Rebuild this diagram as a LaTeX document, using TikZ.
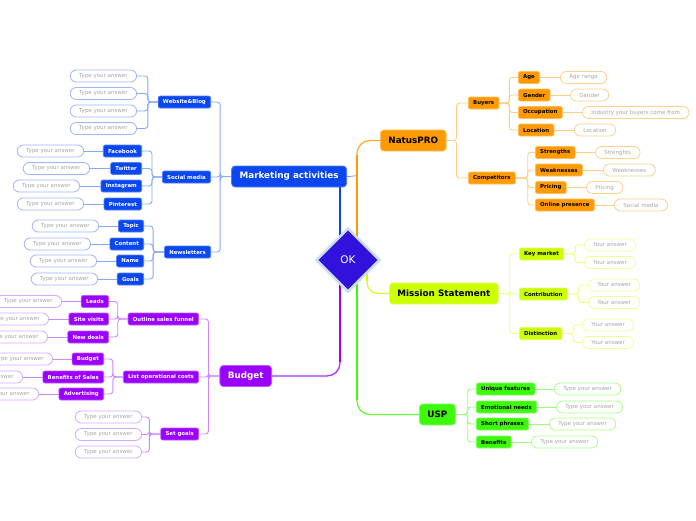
\documentclass[tikz,border=0pt]{standalone}
\usepackage{fontspec}
\setmainfont{DejaVu Sans}
\usetikzlibrary{shapes.geometric}
\pgfdeclarelayer{bg}
\pgfsetlayers{bg,main}
\definecolor{bnode}{HTML}{0A47F0}
\definecolor{bline}{HTML}{88A8F8}
\definecolor{bansc}{HTML}{9DB6F9}
\definecolor{onode}{HTML}{FF9A00}
\definecolor{oline}{HTML}{FFCD85}
\definecolor{oansc}{HTML}{FFCF8F}
\definecolor{ynode}{HTML}{CCFF00}
\definecolor{yline}{HTML}{EEFF88}
\definecolor{yansc}{HTML}{EEFF99}
\definecolor{ythickc}{HTML}{D6F500}
\definecolor{gnode}{HTML}{3CFA0A}
\definecolor{gline}{HTML}{99FF77}
\definecolor{gansc}{HTML}{A6FF8A}
\definecolor{pnode}{HTML}{9900FF}
\definecolor{pline}{HTML}{CC88FF}
\definecolor{pansc}{HTML}{D8A8FF}
\definecolor{diafill}{HTML}{3311DD}
\definecolor{diaedge}{HTML}{C8DDF0}
\definecolor{anstext}{HTML}{A6A6A6}
\tikzset{
  mainnode/.style={rounded corners=3.5pt, inner xsep=8pt, inner ysep=0pt, minimum height=21pt, font=\fontsize{8.8}{10}\selectfont\bfseries, line width=0.8pt},
  subnode/.style={rounded corners=2pt, inner xsep=4.8pt, inner ysep=0pt, minimum height=12pt, font=\fontsize{5.4}{6}\selectfont\bfseries, line width=0.7pt},
  ansnode/.style={rounded corners=6pt, inner xsep=9pt, inner ysep=0pt, minimum height=12pt, font=\fontsize{5.5}{6}\selectfont, text=anstext, fill=white, line width=0.8pt},
  bmain/.style={mainnode, fill=bnode, draw=bnode!70!white, text=white},
  bsub/.style={subnode, fill=bnode, draw=bnode!70!white, text=white},
  bans/.style={ansnode, draw=bansc},
  blink/.style={draw=bline, line width=0.9pt, rounded corners=3pt},
  omain/.style={mainnode, fill=onode, draw=onode!65!white, text=black},
  osub/.style={subnode, fill=onode, draw=onode!65!white, text=black},
  oans/.style={ansnode, draw=oansc},
  olink/.style={draw=oline, line width=0.9pt, rounded corners=3pt},
  ymain/.style={mainnode, fill=ynode, draw=ynode!65!white, text=black},
  ysub/.style={subnode, fill=ynode, draw=ynode!65!white, text=black},
  yans/.style={ansnode, draw=yansc},
  ylink/.style={draw=yline, line width=0.9pt, rounded corners=3pt},
  gmain/.style={mainnode, fill=gnode, draw=gnode!65!white, text=black},
  gsub/.style={subnode, fill=gnode, draw=gnode!65!white, text=black},
  gans/.style={ansnode, draw=gansc},
  glink/.style={draw=gline, line width=0.9pt, rounded corners=3pt},
  pmain/.style={mainnode, fill=pnode, draw=pnode!65!white, text=white},
  psub/.style={subnode, fill=pnode, draw=pnode!65!white, text=white},
  pans/.style={ansnode, draw=pansc},
  plink/.style={draw=pline, line width=0.9pt, rounded corners=3pt},
  thickline/.style={line width=2.4pt},
  midline/.style={line width=1.3pt, rounded corners=13pt},
}
\begin{document}
\begin{tikzpicture}[x=1pt,y=-1pt]
\useasboundingbox (0,0) rectangle (696,520);
\begin{pgfonlayer}{bg}
\fill[white] (0,0) rectangle (696,520);
\end{pgfonlayer}

% ---------- centre ----------
\node[diamond, fill=diafill, draw=diaedge, line width=2.5pt, minimum width=64pt, minimum height=64pt, inner sep=0pt, text=white, font=\fontsize{10.5}{12}\selectfont] (ok) at (348,260) {OK};
\coordinate (bx) at (340,258);
\coordinate (ox) at (357,258);
\coordinate (oc) at (357,155);
\coordinate (px) at (340,262);
\coordinate (pc) at (340,362);
\coordinate (gx) at (357,262);
\coordinate (gc) at (357,400);
\coordinate (yx) at (367,266);
\coordinate (yc) at (367,281);
\coordinate (bt) at (358,175.5);

% ---------- Marketing activities ----------
\node[bmain, anchor=east] (mk) at (347,176.5) {Marketing activities};
\node[bsub, anchor=east] (web) at (211,102) {Website\&Blog};
\node[bsub, anchor=east] (soc) at (211,177) {Social media};
\node[bsub, anchor=east] (news) at (211,252) {Newsletters};
\node[bans, anchor=east] (w1) at (137,76) {Type your answer};
\node[bans, anchor=east] (w2) at (137,93.5) {Type your answer};
\node[bans, anchor=east] (w3) at (137,111) {Type your answer};
\node[bans, anchor=east] (w4) at (137,128.5) {Type your answer};
\node[bsub, anchor=east] (fb) at (142,151) {Facebook};
\node[bsub, anchor=east] (tw) at (142,168.5) {Twitter};
\node[bsub, anchor=east] (ig) at (142,186) {Instagram};
\node[bsub, anchor=east] (pin) at (142,204) {Pinterest};
\node[bans, anchor=east] (fbA) at (84,151) {Type your answer};
\node[bans, anchor=east] (twA) at (90,168.5) {Type your answer};
\node[bans, anchor=east] (igA) at (80,186) {Type your answer};
\node[bans, anchor=east] (pinA) at (84,204) {Type your answer};
\node[bsub, anchor=east] (topic) at (144,226) {Topic};
\node[bsub, anchor=east] (content) at (144,244) {Content};
\node[bsub, anchor=east] (name) at (144,261) {Name};
\node[bsub, anchor=east] (goals) at (144,279) {Goals};
\node[bans, anchor=east] (topicA) at (99,226) {Type your answer};
\node[bans, anchor=east] (contentA) at (91,244) {Type your answer};
\node[bans, anchor=east] (nameA) at (97,261) {Type your answer};
\node[bans, anchor=east] (goalsA) at (98,279) {Type your answer};

% ---------- Budget ----------
\node[pmain, anchor=east] (budget) at (272,376) {Budget};
\node[psub, anchor=east] (osf) at (199,319) {Outline sales funnel};
\node[psub, anchor=east] (loc) at (199,377) {List operational costs};
\node[psub, anchor=east] (sg) at (199,434) {Set goals};
\node[psub, anchor=east] (leads) at (109,301.5) {Leads};
\node[psub, anchor=east] (sv) at (109,319) {Site visits};
\node[psub, anchor=east] (nd) at (109,337) {New deals};
\node[pans, anchor=east] (leadsA) at (62,301.5) {Type your answer};
\node[pans, anchor=east] (svA) at (49,319) {Type your answer};
\node[pans, anchor=east] (ndA) at (48,337) {Type your answer};
\node[psub, anchor=east] (bud) at (104,359) {Budget};
\node[psub, anchor=east] (bos) at (104,377) {Benefits of Sales};
\node[psub, anchor=east] (adv) at (104,394) {Advertising};
\node[pans, anchor=east] (budA) at (53,359) {Type your answer};
\node[pans, anchor=east] (bosA) at (23,377) {Type your answer};
\node[pans, anchor=east] (advA) at (39,394) {Type your answer};
\node[pans, anchor=east] (sg1) at (142,417) {Type your answer};
\node[pans, anchor=east] (sg2) at (142,434.5) {Type your answer};
\node[pans, anchor=east] (sg3) at (142,452) {Type your answer};

% ---------- NatusPRO ----------
\node[omain, anchor=west] (natus) at (380,140.5) {NatusPRO};
\node[osub, anchor=west] (buyers) at (468,103) {Buyers};
\node[osub, anchor=west] (comp) at (468,178) {Competitors};
\node[osub, anchor=west] (age) at (518,77.5) {Age};
\node[osub, anchor=west] (gender) at (518,95) {Gender};
\node[osub, anchor=west] (occ) at (518,112.5) {Occupation};
\node[osub, anchor=west] (locn) at (518,130) {Location};
\node[oans, anchor=west] (ageA) at (560,77.5) {Age range};
\node[oans, anchor=west] (genderA) at (570,95) {Gender};
\node[oans, anchor=west] (occA) at (582,112.5) {Industry your buyers come from};
\node[oans, anchor=west] (locnA) at (574,130) {Location};
\node[osub, anchor=west] (str) at (535,152.5) {Strengths};
\node[osub, anchor=west] (weak) at (535,170) {Weaknesses};
\node[osub, anchor=west] (pric) at (535,187.5) {Pricing};
\node[osub, anchor=west] (onl) at (535,205) {Online presence};
\node[oans, anchor=west] (strA) at (595,152.5) {Strenghts};
\node[oans, anchor=west] (weakA) at (603,170) {Weaknesses};
\node[oans, anchor=west] (pricA) at (586,187.5) {Pricing};
\node[oans, anchor=west] (onlA) at (614,205) {Social media};

% ---------- Mission Statement ----------
\node[ymain, anchor=west] (mission) at (389,293.5) {Mission Statement};
\node[ysub, anchor=west] (km) at (519,254) {Key market};
\node[ysub, anchor=west] (contr) at (519,294) {Contribution};
\node[ysub, anchor=west] (dist) at (519,333.5) {Distinction};
\node[yans, anchor=west] (kmA1) at (584,245) {Your answer};
\node[yans, anchor=west] (kmA2) at (584,262.5) {Your answer};
\node[yans, anchor=west] (cA1) at (588,285) {Your answer};
\node[yans, anchor=west] (cA2) at (588,302.5) {Your answer};
\node[yans, anchor=west] (dA1) at (582,325) {Your answer};
\node[yans, anchor=west] (dA2) at (582,342.5) {Your answer};

% ---------- USP ----------
\node[gmain, anchor=west] (usp) at (419,414.5) {USP};
\node[gsub, anchor=west] (uf) at (476,389) {Unique features};
\node[gsub, anchor=west] (en) at (476,407) {Emotional needs};
\node[gsub, anchor=west] (sp) at (476,424) {Short phrases};
\node[gsub, anchor=west] (ben) at (476,442) {Benefits};
\node[gans, anchor=west] (ufA) at (554,389) {Type your answer};
\node[gans, anchor=west] (enA) at (556,407) {Type your answer};
\node[gans, anchor=west] (spA) at (549,424) {Type your answer};
\node[gans, anchor=west] (benA) at (531,442) {Type your answer};

% ---------- connectors ----------
\begin{pgfonlayer}{bg}
% main branches
\draw[thickline, draw=bnode] (bx) -- (bx |- mk.south);
\draw[draw=bnode!55!white, line width=0.8pt] (mk.east) to[out=0,in=185] (bt);
\draw[thickline, draw=onode] (ox) -- (oc);
\draw[midline, draw=onode!80!white] (oc) |- (natus.west);
\draw[thickline, draw=pnode] (px) -- (pc);
\draw[midline, draw=pnode!80!white] (pc) |- (budget.east);
\draw[thickline, draw=gnode] (gx) -- (gc);
\draw[midline, draw=gnode!80!white] (gc) |- (usp.west);
\draw[thickline, draw=ythickc] (yx) -- (yc);
\draw[midline, rounded corners=11pt, draw=ythickc!80!white] (yc) |- (mission.west);
% blue
\foreach \c in {web,soc,news} \draw[blink] (mk.west) -- ++(-11,0) |- (\c.east);
\foreach \c in {w1,w2,w3,w4} \draw[blink] (web.west) -- ++(-10,0) |- (\c.east);
\foreach \c in {fb,tw,ig,pin} \draw[blink] (soc.west) -- ++(-10,0) |- (\c.east);
\foreach \c in {topic,content,name,goals} \draw[blink] (news.west) -- ++(-11,0) |- (\c.east);
\foreach \a/\b in {fb/fbA,tw/twA,ig/igA,pin/pinA,topic/topicA,content/contentA,name/nameA,goals/goalsA} \draw[blink] (\a.west) -- (\b.east);
% purple
\foreach \c in {osf,loc,sg} \draw[plink] (budget.west) -- ++(-11,0) |- (\c.east);
\foreach \c in {leads,sv,nd} \draw[plink] (osf.west) -- ++(-10,0) |- (\c.east);
\foreach \c in {bud,bos,adv} \draw[plink] (loc.west) -- ++(-10,0) |- (\c.east);
\foreach \c in {sg1,sg2,sg3} \draw[plink] (sg.west) -- ++(-11,0) |- (\c.east);
\foreach \a/\b in {leads/leadsA,sv/svA,nd/ndA,bud/budA,bos/bosA,adv/advA} \draw[plink] (\a.west) -- (\b.east);
% orange
\foreach \c in {buyers,comp} \draw[olink] (natus.east) -- ++(10,0) |- (\c.west);
\foreach \c in {age,gender,occ,locn} \draw[olink] (buyers.east) -- ++(10,0) |- (\c.west);
\foreach \c in {str,weak,pric,onl} \draw[olink] (comp.east) -- ++(12,0) |- (\c.west);
\foreach \a/\b in {age/ageA,gender/genderA,occ/occA,locn/locnA,str/strA,weak/weakA,pric/pricA,onl/onlA} \draw[olink] (\a.east) -- (\b.west);
% yellow
\foreach \c in {km,contr,dist} \draw[ylink] (mission.east) -- ++(11,0) |- (\c.west);
\foreach \c in {kmA1,kmA2} \draw[ylink] (km.east) -- ++(11,0) |- (\c.west);
\foreach \c in {cA1,cA2} \draw[ylink] (contr.east) -- ++(11,0) |- (\c.west);
\foreach \c in {dA1,dA2} \draw[ylink] (dist.east) -- ++(11,0) |- (\c.west);
% green
\foreach \c in {uf,en,sp,ben} \draw[glink] (usp.east) -- ++(12,0) |- (\c.west);
\foreach \a/\b in {uf/ufA,en/enA,sp/spA,ben/benA} \draw[glink] (\a.east) -- (\b.west);
\end{pgfonlayer}
\end{tikzpicture}
\end{document}
